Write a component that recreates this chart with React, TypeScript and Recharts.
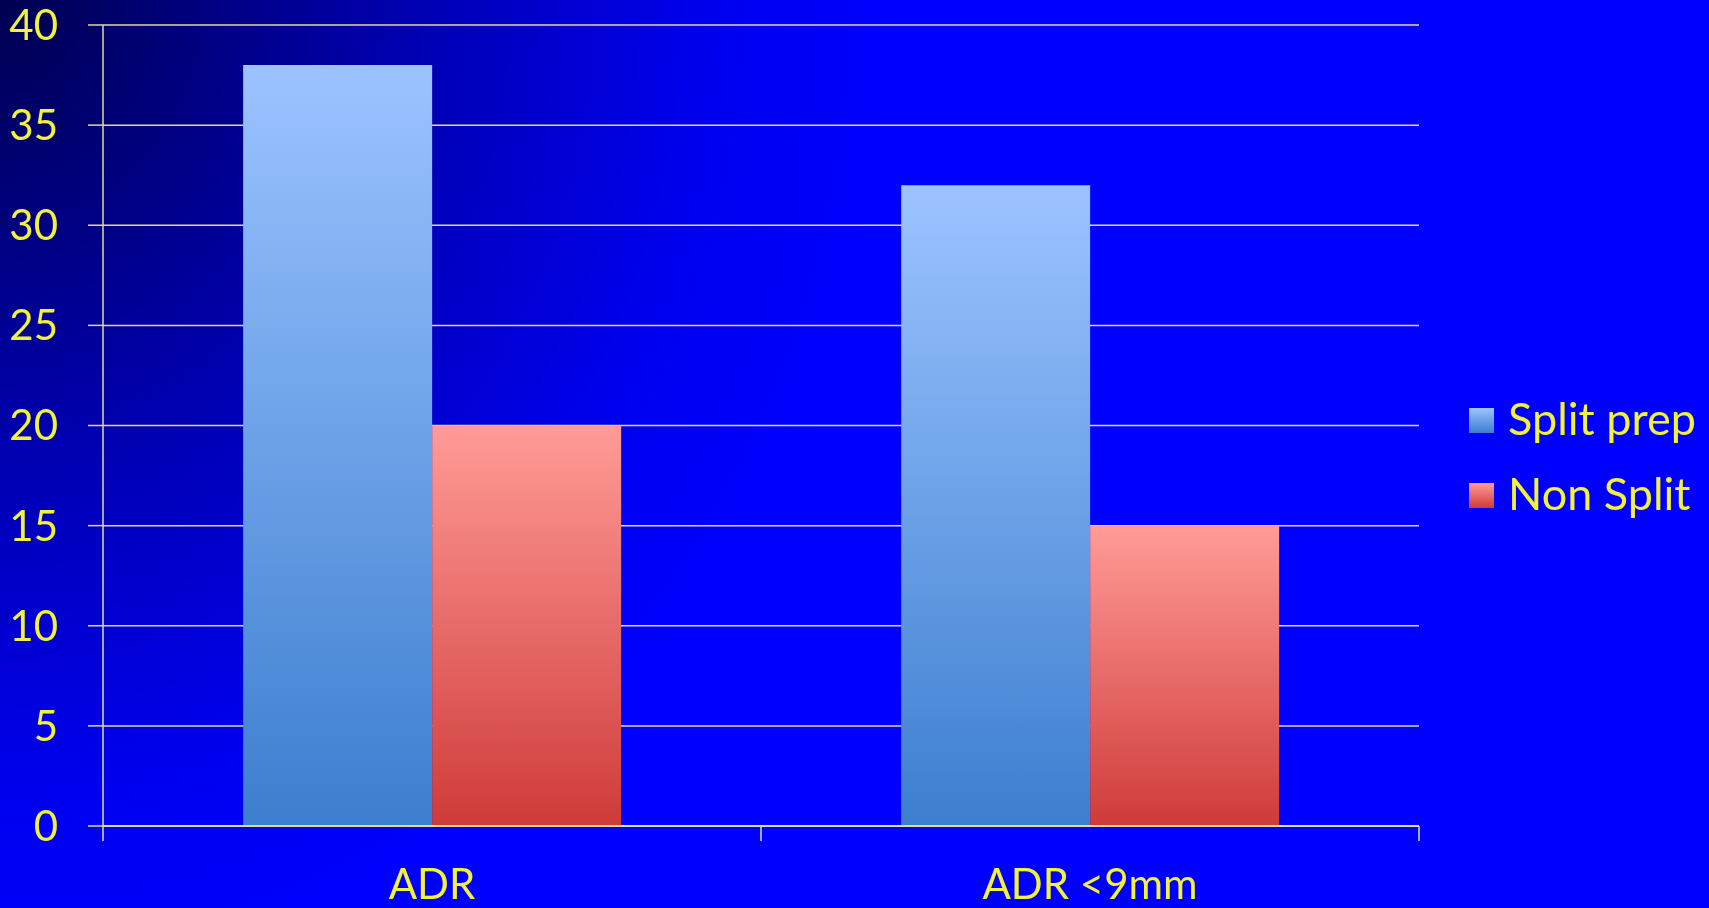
import { BarChart, Bar, XAxis, YAxis, CartesianGrid } from 'recharts';

const categories = ['ADR', 'ADR <9mm'];
const splitPrep = [38, 32];
const nonSplit = [20, 15];
const yTicks = [0, 5, 10, 15, 20, 25, 30, 35, 40];

const seriesList = [
    { key: 'split', name: 'Split prep', values: splitPrep, grad: 'gradBlue', top: '#9cc3ff', bottom: '#3c7ecf' },
    { key: 'non', name: 'Non Split', values: nonSplit, grad: 'gradRed', top: '#ff9b97', bottom: '#cf3b39' },
];

const data = categories.map((name, i) => ({
    name,
    split: splitPrep[i],
    non: nonSplit[i],
}));

const FONT = 'Lato, "Open Sans", sans-serif';
const TEXT = '#f2f23c';
const LINE = '#dcdc98';
const PLOT_W = 1709 - 290 - 103;

// category label at the centre, tick marks at the category edges
function CategoryTick(props: any) {
    const { x, y, payload, index, visibleTicksCount } = props;
    const half = payload && payload.offset ? payload.offset : PLOT_W / categories.length / 2;
    const last = index === visibleTicksCount - 1;
    return (
        <g>
            <line x1={x - half} y1={y} x2={x - half} y2={y + 15} stroke={LINE} strokeWidth={1.5} />
            {last && <line x1={x + half} y1={y} x2={x + half} y2={y + 15} stroke={LINE} strokeWidth={1.5} />}
            <text x={x} y={y + 73} textAnchor="middle" fill={TEXT} fontSize={42} fontFamily={FONT}>
                {payload.value}
            </text>
        </g>
    );
}

export default function App() {
    return (
        <div
            style={{
                position: 'fixed',
                left: 0,
                top: 0,
                width: 1709,
                height: 908,
                overflow: 'hidden',
                background: 'radial-gradient(ellipse 900px 1000px at 0% 0%, #000050 0%, #0000b0 45%, #0000f0 80%, #0000ff 100%)',
                fontFamily: FONT,
            }}
        >
            <BarChart
                width={1709}
                height={908}
                data={data}
                margin={{ top: 25, right: 290, bottom: 0, left: 0 }}
                barCategoryGap="21.3%"
                barGap={0}
            >
                <defs>
                    {seriesList.map(s => (
                        <linearGradient key={s.grad} id={s.grad} x1="0" y1="0" x2="0" y2="1">
                            <stop offset="0%" stopColor={s.top} />
                            <stop offset="100%" stopColor={s.bottom} />
                        </linearGradient>
                    ))}
                </defs>
                <CartesianGrid vertical={false} stroke={LINE} strokeWidth={1.5} />
                <XAxis
                    dataKey="name"
                    height={82}
                    axisLine={{ stroke: LINE, strokeWidth: 2 }}
                    tickLine={false}
                    tickSize={0}
                    tickMargin={0}
                    interval={0}
                    tick={<CategoryTick />}
                />
                <YAxis
                    width={103}
                    domain={[0, 40]}
                    ticks={yTicks}
                    interval={0}
                    axisLine={{ stroke: LINE, strokeWidth: 1.5 }}
                    tickLine={{ stroke: LINE, strokeWidth: 1.5 }}
                    tickSize={15}
                    tickMargin={30}
                    tick={{ fill: TEXT, fontSize: 42, fontFamily: FONT }}
                />
                {seriesList.map(s => (
                    <Bar
                        key={s.key}
                        dataKey={s.key}
                        name={s.name}
                        fill={`url(#${s.grad})`}
                        isAnimationActive={false}
                    />
                ))}
            </BarChart>

            {/* legend */}
            <div style={{ position: 'absolute', left: 1469, top: 383 }}>
                {seriesList.map(s => (
                    <div key={s.key} style={{ display: 'flex', alignItems: 'center', height: 75 }}>
                        <div
                            style={{
                                width: 25,
                                height: 25,
                                marginRight: 14,
                                background: `linear-gradient(${s.top}, ${s.bottom})`,
                            }}
                        />
                        <span style={{ color: TEXT, fontSize: 45, lineHeight: '45px', marginTop: -4 }}>{s.name}</span>
                    </div>
                ))}
            </div>
        </div>
    );
}
